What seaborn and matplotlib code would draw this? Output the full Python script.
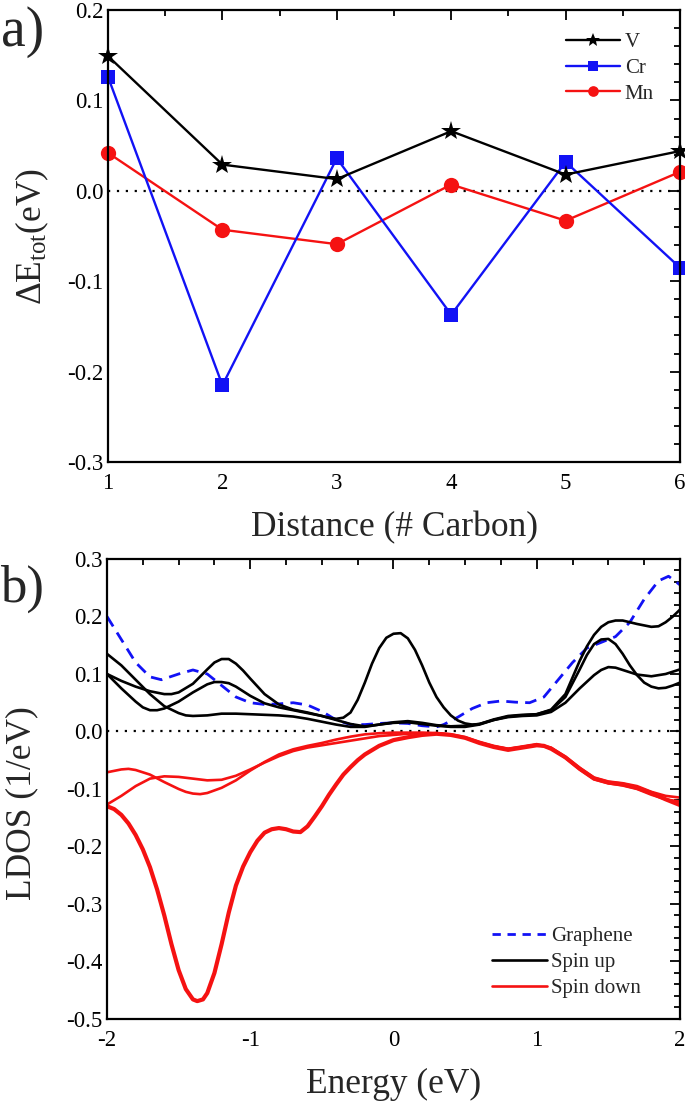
import numpy as np
import pandas as pd
import matplotlib
matplotlib.use("Agg")
import matplotlib.pyplot as plt
import seaborn as sns
from matplotlib.ticker import MultipleLocator, FormatStrFormatter
from matplotlib.lines import Line2D

sns.set_theme(style="white")
plt.rcParams['font.family'] = ['Liberation Serif', 'DejaVu Serif']
plt.rcParams['mathtext.fontset'] = 'custom'
plt.rcParams['mathtext.rm'] = 'Liberation Serif'
plt.rcParams['mathtext.it'] = 'Liberation Serif:italic'
plt.rcParams['axes.unicode_minus'] = False
plt.rcParams['lines.solid_joinstyle'] = 'round'
plt.rcParams['lines.solid_capstyle'] = 'round'

# ---------------- data: panel a ----------------
distance = [1, 2, 3, 4, 5, 6]
dE_V = [0.149, 0.029, 0.013, 0.066, 0.018, 0.044]
dE_Cr = [0.126, -0.215, 0.036, -0.137, 0.032, -0.085]
dE_Mn = [0.042, -0.043, -0.059, 0.007, -0.033, 0.021]

# ---------------- data: panel b ----------------
E_graphene = [-2.0, -1.9, -1.8, -1.7, -1.62, -1.5, -1.4, -1.3, -1.2, -1.1, -1.0, -0.9, -0.8,
              -0.7, -0.6, -0.5, -0.4, -0.3, -0.2, -0.1, 0.0, 0.1, 0.2, 0.3, 0.35, 0.45, 0.55,
              0.65, 0.75, 0.85, 0.95, 1.05, 1.15, 1.25, 1.35, 1.45, 1.55, 1.65, 1.75, 1.85,
              1.92, 2.0]
ldos_graphene = [0.200, 0.160, 0.120, 0.095, 0.090, 0.100, 0.107, 0.100, 0.080, 0.060, 0.050,
                 0.047, 0.048, 0.050, 0.046, 0.035, 0.020, 0.012, 0.012, 0.014, 0.015, 0.014,
                 0.010, 0.008, 0.012, 0.025, 0.040, 0.050, 0.053, 0.051, 0.050, 0.060, 0.090,
                 0.120, 0.145, 0.155, 0.165, 0.190, 0.230, 0.262, 0.270, 0.255]

E_up1 = [-2.0, -1.9, -1.8, -1.7, -1.6, -1.55, -1.5, -1.4, -1.3, -1.25, -1.2, -1.15, -1.1,
         -1.05, -1.0, -0.9, -0.8, -0.7, -0.6, -0.5, -0.4, -0.3, -0.2, -0.1, 0.0, 0.1, 0.2,
         0.3, 0.4, 0.5, 0.6, 0.7, 0.8, 0.9, 1.0, 1.1, 1.2, 1.3, 1.35, 1.4, 1.45, 1.5, 1.55,
         1.6, 1.7, 1.8, 1.85, 1.9, 1.95, 2.0]
up_1 = [0.100, 0.088, 0.078, 0.070, 0.065, 0.065, 0.068, 0.083, 0.108, 0.120, 0.126, 0.126,
        0.118, 0.106, 0.092, 0.065, 0.047, 0.038, 0.033, 0.027, 0.020, 0.013, 0.009, 0.012,
        0.015, 0.016, 0.013, 0.010, 0.008, 0.008, 0.012, 0.020, 0.026, 0.028, 0.030, 0.038,
        0.065, 0.123, 0.148, 0.168, 0.182, 0.190, 0.193, 0.193, 0.187, 0.182, 0.183, 0.190,
        0.200, 0.212]

E_up2 = [-2.0, -1.9, -1.8, -1.75, -1.7, -1.65, -1.6, -1.5, -1.4, -1.3, -1.25, -1.2, -1.15,
         -1.1, -1.0, -0.9, -0.8, -0.7, -0.6, -0.5, -0.45, -0.4, -0.35, -0.3, -0.25, -0.2,
         -0.15, -0.1, -0.05, 0.0, 0.05, 0.1, 0.15, 0.2, 0.25, 0.3, 0.35, 0.4, 0.45, 0.5,
         0.55, 0.6, 0.7, 0.8, 0.9, 1.0, 1.1, 1.2, 1.3, 1.35, 1.4, 1.45, 1.5, 1.55, 1.6,
         1.65, 1.7, 1.75, 1.8, 1.85, 1.9, 1.95, 2.0]
up_2 = [0.100, 0.075, 0.052, 0.042, 0.037, 0.037, 0.040, 0.052, 0.068, 0.082, 0.086, 0.086,
        0.084, 0.078, 0.062, 0.049, 0.042, 0.037, 0.032, 0.027, 0.024, 0.022, 0.024, 0.033,
        0.055, 0.085, 0.118, 0.145, 0.163, 0.170, 0.171, 0.162, 0.142, 0.115, 0.085, 0.060,
        0.042, 0.028, 0.019, 0.014, 0.012, 0.013, 0.021, 0.027, 0.029, 0.030, 0.037, 0.060,
        0.108, 0.133, 0.152, 0.160, 0.161, 0.152, 0.135, 0.115, 0.098, 0.085, 0.078, 0.075,
        0.076, 0.080, 0.085]

E_up3 = [-2.0, -1.9, -1.8, -1.7, -1.6, -1.5, -1.45, -1.4, -1.3, -1.2, -1.1, -1.0, -0.9, -0.8,
         -0.7, -0.6, -0.5, -0.4, -0.3, -0.2, -0.1, 0.0, 0.1, 0.2, 0.3, 0.4, 0.5, 0.6, 0.7,
         0.8, 0.9, 1.0, 1.1, 1.2, 1.3, 1.4, 1.45, 1.5, 1.55, 1.6, 1.7, 1.8, 1.9, 2.0]
up_3 = [0.135, 0.115, 0.090, 0.065, 0.044, 0.032, 0.028, 0.027, 0.028, 0.031, 0.031, 0.030,
        0.029, 0.028, 0.026, 0.022, 0.017, 0.012, 0.008, 0.008, 0.012, 0.016, 0.018, 0.015,
        0.011, 0.009, 0.010, 0.013, 0.020, 0.025, 0.027, 0.028, 0.034, 0.050, 0.075, 0.098,
        0.107, 0.112, 0.111, 0.107, 0.099, 0.096, 0.100, 0.108]

E_dn1 = [-2.0, -1.95, -1.9, -1.85, -1.8, -1.75, -1.7, -1.65, -1.6, -1.55, -1.5, -1.45, -1.4,
         -1.37, -1.33, -1.3, -1.25, -1.2, -1.15, -1.1, -1.05, -1.0, -0.95, -0.9, -0.85, -0.8,
         -0.75, -0.7, -0.65, -0.6, -0.55, -0.5, -0.45, -0.4, -0.35, -0.3, -0.25, -0.2, -0.1,
         0.0, 0.1, 0.2, 0.3, 0.4, 0.5, 0.6, 0.7, 0.8, 0.9, 1.0, 1.05, 1.1, 1.2, 1.3, 1.4,
         1.5, 1.6, 1.7, 1.8, 1.9, 2.0]
down_1 = [-0.130, -0.135, -0.145, -0.160, -0.180, -0.205, -0.236, -0.275, -0.320, -0.370,
          -0.415, -0.448, -0.466, -0.469, -0.466, -0.455, -0.420, -0.370, -0.315, -0.268,
          -0.235, -0.210, -0.190, -0.176, -0.170, -0.168, -0.170, -0.174, -0.175, -0.165,
          -0.148, -0.130, -0.110, -0.092, -0.075, -0.062, -0.050, -0.040, -0.025, -0.015,
          -0.010, -0.006, -0.004, -0.006, -0.011, -0.020, -0.027, -0.032, -0.028, -0.024,
          -0.025, -0.030, -0.045, -0.065, -0.082, -0.089, -0.092, -0.098, -0.107, -0.118,
          -0.128]

E_dn2 = [-2.0, -1.9, -1.85, -1.8, -1.7, -1.6, -1.5, -1.45, -1.4, -1.35, -1.3, -1.2, -1.1,
         -1.0, -0.9, -0.8, -0.7, -0.6, -0.5, -0.4, -0.3, -0.2, -0.1, 0.0, 0.1, 0.2, 0.3, 0.4,
         0.5, 0.6, 0.7, 0.8, 0.9, 1.0, 1.1, 1.2, 1.3, 1.4, 1.5, 1.6, 1.7, 1.8, 1.9, 2.0]
down_2 = [-0.071, -0.066, -0.065, -0.067, -0.075, -0.088, -0.100, -0.105, -0.108, -0.109,
          -0.107, -0.098, -0.085, -0.068, -0.053, -0.040, -0.031, -0.025, -0.020, -0.014,
          -0.009, -0.005, -0.003, -0.002, -0.002, -0.002, -0.003, -0.006, -0.011, -0.019,
          -0.026, -0.030, -0.026, -0.022, -0.028, -0.044, -0.063, -0.080, -0.087, -0.090,
          -0.095, -0.105, -0.112, -0.115]

E_dn3 = [-2.0, -1.9, -1.8, -1.7, -1.6, -1.5, -1.4, -1.3, -1.2, -1.1, -1.0, -0.9, -0.8, -0.7,
         -0.6, -0.5, -0.4, -0.3, -0.2, -0.1, 0.0, 0.1, 0.2, 0.3, 0.4, 0.5, 0.6, 0.7, 0.8,
         0.9, 1.0, 1.1, 1.2, 1.3, 1.4, 1.5, 1.6, 1.7, 1.8, 1.9, 2.0]
down_3 = [-0.127, -0.112, -0.095, -0.082, -0.078, -0.079, -0.082, -0.085, -0.084, -0.077,
          -0.066, -0.054, -0.043, -0.034, -0.028, -0.024, -0.020, -0.016, -0.012, -0.008,
          -0.006, -0.004, -0.003, -0.003, -0.005, -0.010, -0.018, -0.025, -0.030, -0.027,
          -0.023, -0.029, -0.046, -0.066, -0.083, -0.090, -0.094, -0.100, -0.110, -0.118,
          -0.122]

TICK_FS = 16.5
LABEL_FS = 25.5
BLUE = "#1212f5"
RED = "#f51212"

fig = plt.figure(figsize=(6.85, 11.03), dpi=100)
ax1 = fig.add_axes([0.1577, 0.5811, 0.8350, 0.4098])
ax2 = fig.add_axes([0.1562, 0.0762, 0.8365, 0.4170])

# ---------------- panel a ----------------
dfa = pd.DataFrame({"d": distance, "V": dE_V, "Cr": dE_Cr, "Mn": dE_Mn})
ax1.axhline(0, color="black", ls=(0, (1, 3)), lw=1.6, zorder=1)
sns.lineplot(data=dfa, x="d", y="V", ax=ax1, color="black", lw=1.7, marker="*",
             markersize=15, markeredgewidth=0, label="V", zorder=5, clip_on=False)
sns.lineplot(data=dfa, x="d", y="Cr", ax=ax1, color=BLUE, lw=1.7, marker="s",
             markersize=10, markeredgewidth=0, label="Cr", zorder=4, clip_on=False)
sns.lineplot(data=dfa, x="d", y="Mn", ax=ax1, color=RED, lw=1.7, marker="o",
             markersize=11, markeredgewidth=0, label="Mn", zorder=3, clip_on=False)
ax1.set_xlim(1, 6)
ax1.set_ylim(-0.3, 0.2)
ax1.xaxis.set_major_locator(MultipleLocator(1))
ax1.xaxis.set_minor_locator(MultipleLocator(0.5))
ax1.yaxis.set_major_locator(MultipleLocator(0.1))
ax1.yaxis.set_minor_locator(MultipleLocator(0.02))
ax1.yaxis.set_major_formatter(FormatStrFormatter('%.1f'))
ax1.xaxis.set_major_formatter(FormatStrFormatter('%d'))
ax1.set_xlabel("Distance (# Carbon)", fontsize=LABEL_FS, labelpad=12)
ax1.set_ylabel(r"$\Delta$E$_{\rm tot}$(eV)", fontsize=LABEL_FS)
ax1.yaxis.set_label_coords(-0.1, 0.5)
ax1.legend(loc="upper right", bbox_to_anchor=(0.976, 0.978), frameon=False,
           fontsize=15, handlelength=2.6, handletextpad=0.2, labelspacing=0.3,
           borderaxespad=0.2, markerscale=0.7)

# ---------------- panel b ----------------
ax2.axhline(0, color="black", ls=(0, (1, 3)), lw=1.6, zorder=1)
sns.lineplot(x=E_graphene, y=ldos_graphene, ax=ax2, color=BLUE, lw=2.0,
             linestyle=(0, (4.2, 2.6)), zorder=3)
for e, up in ((E_up1, up_1), (E_up2, up_2), (E_up3, up_3)):
    sns.lineplot(x=e, y=up, ax=ax2, color="black", lw=1.9, zorder=4)
sns.lineplot(x=E_dn1, y=down_1, ax=ax2, color=RED, lw=3.0, zorder=4)
for e, dn in ((E_dn2, down_2), (E_dn3, down_3)):
    sns.lineplot(x=e, y=dn, ax=ax2, color=RED, lw=1.9, zorder=4)
ax2.set_xlim(-2, 2)
ax2.set_ylim(-0.5, 0.3)
ax2.xaxis.set_major_locator(MultipleLocator(1))
ax2.xaxis.set_minor_locator(MultipleLocator(0.25))
ax2.yaxis.set_major_locator(MultipleLocator(0.1))
ax2.yaxis.set_minor_locator(MultipleLocator(0.02))
ax2.yaxis.set_major_formatter(FormatStrFormatter('%.1f'))
ax2.xaxis.set_major_formatter(FormatStrFormatter('%d'))
ax2.set_xlabel("Energy (eV)", fontsize=LABEL_FS, labelpad=12)
ax2.set_ylabel("LDOS (1/eV)", fontsize=LABEL_FS)
ax2.yaxis.set_label_coords(-0.12, 0.47)
handles = [Line2D([], [], color=BLUE, lw=2.0, ls=(0, (3, 2.4))),
           Line2D([], [], color="black", lw=1.9),
           Line2D([], [], color=RED, lw=1.9)]
ax2.legend(handles, ["Graphene", "Spin up", "Spin down"], loc="lower right",
           bbox_to_anchor=(0.964, 0.004), frameon=False, fontsize=15, handlelength=2.6,
           handletextpad=0.2, labelspacing=0.32)

for ax in (ax1, ax2):
    ax.tick_params(axis="both", which="both", direction="in", top=True, right=True,
                   labelsize=TICK_FS, colors="black", width=1.3)
    ax.tick_params(which="major", length=7)
    ax.tick_params(which="minor", length=4)
    ax.tick_params(axis="x", pad=8)
    for s in ax.spines.values():
        s.set_color("black")
        s.set_linewidth(1.6)
        s.set_zorder(6)
    ax.set_facecolor("white")

fig.text(0.002, 0.995, "a)", fontsize=40, va="top", ha="left")
fig.text(0.0, 0.488, "b)", fontsize=38, va="top", ha="left")

fig.savefig("out.png", dpi=100, facecolor="white")
